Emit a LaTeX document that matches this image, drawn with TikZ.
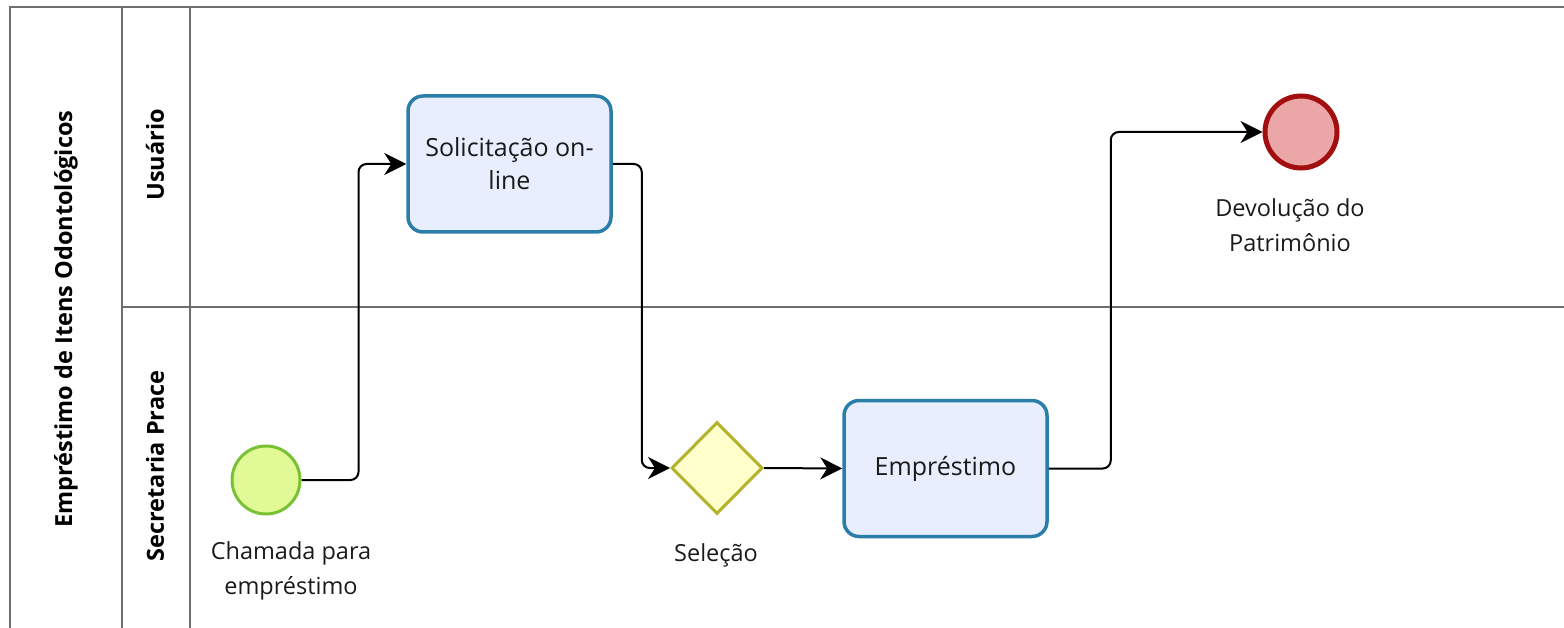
\documentclass[tikz,border=0pt]{standalone}
\usepackage{fontspec}
\setmainfont{Open Sans}
\usetikzlibrary{arrows.meta,shapes.geometric}
\definecolor{poolline}{HTML}{6E6E6E}
\definecolor{taskfill}{HTML}{E8EEFD}
\definecolor{taskdraw}{HTML}{2B7DAA}
\definecolor{startfill}{HTML}{E2FA96}
\definecolor{startdraw}{HTML}{7AC034}
\definecolor{endfill}{HTML}{EBA7A7}
\definecolor{enddraw}{HTML}{A30F0F}
\definecolor{gwfill}{HTML}{FFFFCC}
\definecolor{gwdraw}{HTML}{B4B22A}
\definecolor{txt}{HTML}{1A1A1A}
\tikzset{
  lbl/.style={font=\fontsize{23.5}{35}\selectfont, text=txt, align=center, inner sep=0pt},
  hdr/.style={font=\fontsize{23.5}{28}\selectfont\bfseries, text=black, rotate=90, inner sep=0pt},
  pool/.style={draw=poolline, line width=2pt},
  task/.style={draw=taskdraw, fill=taskfill, line width=3.5pt, rounded corners=15pt, minimum width=203pt, minimum height=136pt, inner sep=0pt, font=\fontsize{25}{33}\selectfont, text=txt, align=center},
  startev/.style={circle, draw=startdraw, fill=startfill, line width=3pt, minimum size=68pt, inner sep=0pt},
  endev/.style={circle, draw=enddraw, fill=endfill, line width=5pt, minimum size=72pt, inner sep=0pt},
  gw/.style={diamond, draw=gwdraw, fill=gwfill, line width=3pt, minimum width=91pt, minimum height=92pt, inner sep=0pt},
  flow/.style={draw=black, line width=2pt, rounded corners=8pt, -{Stealth[length=22pt, width=22pt, inset=7pt]}}
}
\begin{document}
\begin{tikzpicture}[x=1pt, y=-1pt]
\useasboundingbox (0,0) rectangle (1564,628);
% pool and lanes
\draw[pool] (1564,7) -- (10,7) -- (10,628);
\draw[pool] (122,7) -- (122,628);
\draw[pool] (190,7) -- (190,628);
\draw[pool] (122,307) -- (1564,307);
\node[hdr] (poolname) at (66,319) {Empréstimo de Itens Odontológicos};
\node[hdr] (lane1) at (155,155) {Usuário};
\node[hdr] (lane2) at (155,466) {Secretaria Prace};
% elements
\node[startev] (start) at (266,480) {};
\node[lbl] (startlbl) at (291,571) {Chamada para\\empréstimo};
\node[task] (t1) at (509.5,164) {Solicitação on-\\line};
\node[gw] (gw) at (717,468) {};
\node[lbl] (gwlbl) at (716,555) {Seleção};
\node[task] (t2) at (945.5,468.5) {Empréstimo};
\node[endev] (end) at (1301,132) {};
\node[lbl] (endlbl) at (1290,225) {Devolução do\\Patrimônio};
% flows
\draw[flow] (start.east) -- ++(57,0) |- (t1.west);
\draw[flow] (t1.east) -- ++(29,0) |- (gw.west);
\draw[flow] (gw.east) -- (t2.west);
\draw[flow] (t2.east) -- ++(62,0) |- (end.west);
\end{tikzpicture}
\end{document}
